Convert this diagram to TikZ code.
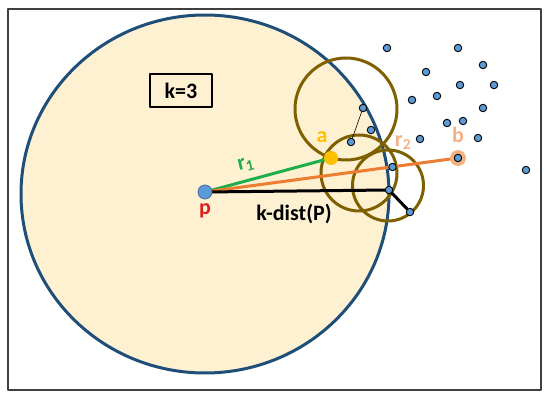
\documentclass[tikz,border=0pt]{standalone}
\usepackage{fontspec}
\setmainfont{Carlito}
\definecolor{cream}{HTML}{FEF1D2}
\definecolor{ringblue}{HTML}{1F4E79}
\definecolor{dotblue}{HTML}{5B9BD5}
\definecolor{olive}{HTML}{7F6000}
\definecolor{lgreen}{HTML}{1FAE4B}
\definecolor{lorange}{HTML}{ED7D31}
\definecolor{ayellow}{HTML}{FFC000}
\definecolor{bsalmon}{HTML}{F4B183}
\definecolor{pred}{HTML}{E02020}
\tikzset{
  pt/.style={circle, draw=black, fill=dotblue, line width=0.9pt, minimum size=7.5pt, inner sep=0pt},
  ring/.style={draw=olive, line width=3pt},
  lbl/.style={font=\bfseries\fontsize{22}{24}\selectfont, inner sep=0pt}
}
\begin{document}
\begin{tikzpicture}[x=1pt, y=-1pt, line join=round, line cap=round]
		\useasboundingbox (0,0) rectangle (550,398);
		% frame
		\draw[line width=2pt, black!75] (8,9) rectangle (541,390);
		% k-distance region
		\draw[fill=cream, draw=ringblue, line width=3pt] (205,194) ellipse [x radius=184, y radius=179];
		% neighbourhood rings
		\draw[ring] (346,109) circle (51);
		\draw[ring] (359,173) circle (38);
		\draw[ring] (388,185.5) circle (35.5);
		% named points
		\coordinate (P) at (205,192);
		\coordinate (A) at (331,158);
		\coordinate (B) at (458,158);
		\coordinate (K) at (389,190);
		% distances
		\draw[line width=3pt, lgreen] (P) -- (A);
		\draw[line width=3pt, lorange] (P) -- (B);
		\draw[line width=3pt, black] (P) -- (K);
		\node[circle, fill=ayellow, minimum size=14pt, inner sep=0pt] (a) at (A) {};
		\node[circle, fill=bsalmon, minimum size=16pt, inner sep=0pt] (b) at (B) {};
		\node[pt] (k1) at (K) {};
		\node[pt] (k2) at (410,212) {};
		\node[pt] (k3) at (363,108) {};
		\node[pt] (k4) at (351,142) {};
		\draw[line width=3pt] (k1) -- (k2);
		\draw[line width=0.6pt] (k3) -- (k4);
		\node[pt] (bb) at (B) {};
		\node[pt] (r2p) at (392.5,167) {};
		\node[pt] (k5) at (371,130) {};
		% other points
		\foreach \x/\y [count=\i] in {387/48, 458/48, 483/65, 426/72, 460/85, 494/85,
		  412/100, 437/96, 483/108, 447/123, 463/121, 420/139, 478/138, 526/170}
		\node[pt] (q\i) at (\x,\y) {};
		\node[circle, fill=dotblue, draw=dotblue!70!black, line width=0.8pt, minimum size=14pt, inner sep=0pt] (p) at (P) {};
		% labels
		\node[draw, line width=2.5pt, minimum width=62pt, minimum height=33pt] (kbox) at (181,90.5) {};
		\node[lbl] at (kbox) {k=3};
		\node[lbl, text=pred] at (205,211) {p};
		\node[lbl] at (294,214) {k-dist(P)};
		\node[lbl, text=lgreen, rotate=14] at (246,165) {r\textsubscript{1}};
		\node[lbl, text=ayellow] at (322,137) {a};
		\node[lbl, text=bsalmon] at (403,143) {r\textsubscript{2}};
		\node[lbl, text=bsalmon] at (458,135) {b};
	\end{tikzpicture}
\end{document}
